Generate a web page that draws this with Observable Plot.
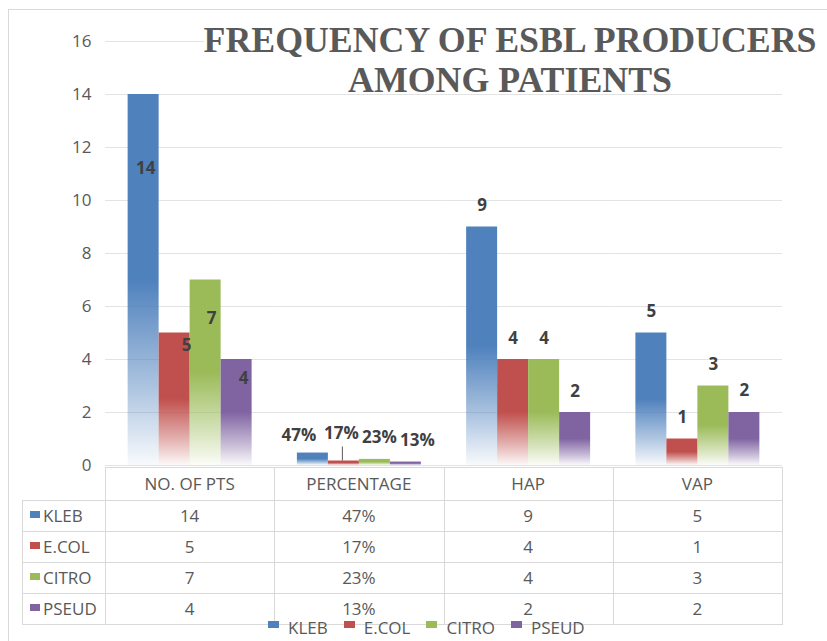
<!DOCTYPE html>
<html>
<head>
<meta charset="utf-8">
<script src="https://cdn.jsdelivr.net/npm/d3@7"></script>
<script src="https://cdn.jsdelivr.net/npm/@observablehq/plot@0.6"></script>
<style>
  html, body { margin: 0; padding: 0; background: #fff; }
  #wrap { position: relative; width: 827px; height: 641px; overflow: hidden; background: #fff; font-family: "Open Sans", sans-serif; color: #595959; }
  #frame { position: absolute; left: 8px; top: 9px; width: 900px; height: 700px; border-left: 1px solid #d9d9d9; border-top: 1px solid #d9d9d9; }
  #chart { position: absolute; left: 0; top: 0; }
  .title { position: absolute; left: 200px; width: 620px; text-align: center; white-space: nowrap;
           font-family: "Liberation Serif", "DejaVu Serif", serif; font-weight: bold; font-size: 35.8px; line-height: 35px; color: #595959; }
  .title span.bg { background: #fff; }
  .cell { position: absolute; box-sizing: border-box; display: flex; align-items: center; justify-content: center; font-size: 17px; color: #595959; white-space: nowrap; }
  .hline { position: absolute; height: 1px; background: #d9d9d9; }
  .vline { position: absolute; width: 1px; background: #d9d9d9; }
  .sw { display: inline-block; width: 10px; height: 7px; margin-right: 3px; position: relative; top: -1px; }
  #legend { position: absolute; left: 268px; top: 616px; display: flex; align-items: center; font-size: 17px; color: #595959; white-space: nowrap; }
  #legend .item { display: flex; align-items: center; margin-right: 16px; }
  #legend .lsw { width: 11px; height: 7px; margin-right: 9px; position: relative; top: -3px; }
</style>
</head>
<body>
<div id="wrap">
  <div id="frame"></div>
  <div id="chart"></div>
  <div id="table"></div>
  <div class="title" style="top:22.5px"><span class="bg" id="t1"></span></div>
  <div class="title" style="top:62.5px"><span id="t2"></span></div>
  <div id="legend"></div>
</div>
<script>
// ---- data ----
const titleLines = ["FREQUENCY OF ESBL PRODUCERS", "AMONG PATIENTS"];
const categories = ["NO. OF PTS", "PERCENTAGE", "HAP", "VAP"];
const series = ["KLEB", "E.COL", "CITRO", "PSEUD"];
const klebValues  = [14, 0.47, 9, 5];
const ecolValues  = [5, 0.17, 4, 1];
const citroValues = [7, 0.23, 4, 3];
const pseudValues = [4, 0.13, 2, 2];
const yTicks = [0, 2, 4, 6, 8, 10, 12, 14, 16];
const percentCategory = "PERCENTAGE";

// ---- styling ----
const colors = ["#4f81bd", "#c0504d", "#9bbb59", "#8064a2"];
const valuesBySeries = [klebValues, ecolValues, citroValues, pseudValues];
const fmt = (cat, v) => cat === percentCategory ? Math.round(v * 100) + "%" : String(v);

const rows = [];
series.forEach((s, si) => categories.forEach((c, ci) => {
  rows.push({cat: c, series: s, value: valuesBySeries[si][ci], label: fmt(c, valuesBySeries[si][ci])});
}));

// label nudges (pixels) reproducing the reference placement
const nudge = {
  "NO. OF PTS|KLEB": [2, 74], "NO. OF PTS|E.COL": [12, 13], "NO. OF PTS|CITRO": [6, 39], "NO. OF PTS|PSEUD": [7, 19],
  "PERCENTAGE|KLEB": [-14, -17.5], "PERCENTAGE|E.COL": [-2.5, -27], "PERCENTAGE|CITRO": [4.5, -22], "PERCENTAGE|PSEUD": [11.5, -21.5]
};
const defaultNudge = {"HAP": [0, -21], "VAP": [0, -21.5]};

const labelMarks = rows.map(r => {
  const [dx, dy] = nudge[r.cat + "|" + r.series] || defaultNudge[r.cat];
  return Plot.text([r], {fx: "cat", x: "series", y: "value", text: "label", dx, dy,
    fill: "#404040", fontWeight: "bold", fontSize: 17});
});

const leader = rows.filter(r => r.cat === percentCategory && r.series === "E.COL");

const plot = Plot.plot({
  width: 827, height: 467,
  marginTop: 41, marginBottom: 2, marginLeft: 105, marginRight: 45,
  style: {fontFamily: "Open Sans, sans-serif", background: "transparent", overflow: "visible"},
  fx: {domain: categories, padding: 0, round: false, axis: null, label: null},
  x: {domain: series, paddingInner: 0, paddingOuter: 0.73, round: false, axis: null, label: null},
  y: {domain: [0, 16], label: null},
  color: {domain: series, range: colors},
  marks: [
    Plot.gridY(yTicks, {stroke: "#e3e3e3", strokeOpacity: 1}),
    Plot.axisY({ticks: yTicks, tickSize: 0, tickPadding: 14, fontSize: 17, color: "#595959", label: null}),
    Plot.barY(rows, {fx: "cat", x: "series", y: "value", fill: "series", inset: 0}),
    Plot.ruleX(leader, {fx: "cat", x: "series", y1: "value", y2: "value", insetTop: -14, dx: -1.5, stroke: "#595959", strokeWidth: 1}),
    ...labelMarks
  ]
});
document.getElementById("chart").appendChild(plot);

// gradient fills (solid top, fading to white at the base)
const svg = plot.tagName.toLowerCase() === "svg" ? plot : plot.querySelector("svg");
const ns = "http://www.w3.org/2000/svg";
const defs = document.createElementNS(ns, "defs");
const colorToId = {};
colors.forEach((c, i) => {
  const g = document.createElementNS(ns, "linearGradient");
  g.setAttribute("id", "grad" + i);
  g.setAttribute("x1", "0"); g.setAttribute("y1", "0"); g.setAttribute("x2", "0"); g.setAttribute("y2", "1");
  [[0, 1], [0.5, 1], [0.8, 0.45], [1, 0.04]].forEach(([o, a]) => {
    const st = document.createElementNS(ns, "stop");
    st.setAttribute("offset", o);
    st.setAttribute("stop-color", c);
    st.setAttribute("stop-opacity", a);
    g.appendChild(st);
  });
  defs.appendChild(g);
  colorToId[d3.color(c).formatHex()] = "grad" + i;
});
svg.insertBefore(defs, svg.firstChild);
svg.querySelectorAll('g[aria-label="bar"] rect').forEach(r => {
  const f = r.getAttribute("fill");
  if (!f) return;
  const id = colorToId[d3.color(f).formatHex()];
  if (id) r.setAttribute("fill", `url(#${id})`);
});

// title
document.getElementById("t1").textContent = titleLines[0];
document.getElementById("t2").textContent = titleLines[1];

// data table
const table = document.getElementById("table");
const colX = d3.scaleBand().domain(categories).range([105, 782]);
const tableLeft = 22, headerTop = 467, headerH = 33, rowH = 31;
const bodyTop = headerTop + headerH;
const bodyBottom = bodyTop + rowH * series.length;
function add(cls, style, html) {
  const d = document.createElement("div");
  d.className = cls;
  Object.assign(d.style, style);
  if (html != null) d.innerHTML = html;
  table.appendChild(d);
  return d;
}
add("hline", {left: "105px", top: headerTop + "px", width: (782 - 105 + 1) + "px"});
for (let i = 0; i <= series.length; i++) {
  add("hline", {left: tableLeft + "px", top: (bodyTop + i * rowH) + "px", width: (782 - tableLeft + 1) + "px"});
}
add("vline", {left: tableLeft + "px", top: bodyTop + "px", height: (bodyBottom - bodyTop) + "px"});
categories.forEach(c => add("vline", {left: colX(c) + "px", top: headerTop + "px", height: (bodyBottom - headerTop) + "px"}));
add("vline", {left: "782px", top: headerTop + "px", height: (bodyBottom - headerTop) + "px"});
categories.forEach(c => add("cell", {left: colX(c) + "px", top: headerTop + "px", width: colX.bandwidth() + "px", height: headerH + "px"}, c));
series.forEach((s, si) => {
  const top = bodyTop + si * rowH;
  const lab = add("cell", {left: (tableLeft + 8) + "px", top: top + "px", height: rowH + "px", justifyContent: "flex-start"});
  lab.innerHTML = `<span class="sw" style="background:${colors[si]}"></span>${s}`;
  categories.forEach((c, ci) => {
    add("cell", {left: colX(c) + "px", top: top + "px", width: colX.bandwidth() + "px", height: rowH + "px"}, fmt(c, valuesBySeries[si][ci]));
  });
});

// legend
const legend = document.getElementById("legend");
series.forEach((s, i) => {
  const it = document.createElement("div");
  it.className = "item";
  it.innerHTML = `<span class="lsw" style="background:${colors[i]}"></span><span>${s}</span>`;
  legend.appendChild(it);
});
</script>
</body>
</html>
